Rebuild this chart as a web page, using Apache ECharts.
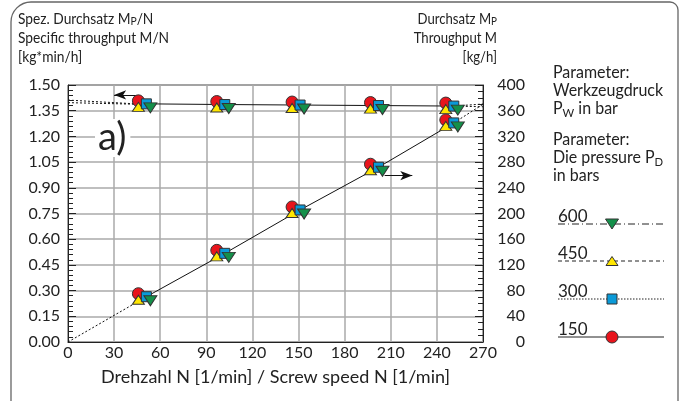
<!DOCTYPE html>
<html><head><meta charset="utf-8">
<script src="https://cdn.jsdelivr.net/npm/echarts@6/dist/echarts.min.js"></script>
<style>html,body{margin:0;padding:0;background:#fff}#c{width:681px;height:401px}</style>
</head><body><div id="c"></div>
<script>
// ---- data ----
const speeds = [51, 102, 151, 202, 251];
const throughput = [70.5, 138, 205.5, 272, 341];
const specific = [1.39, 1.386, 1.383, 1.380, 1.377];
const throughputExtLeft = [[0, 0], [51, 70.5]];
const throughputExtRight = [[251, 341], [270, 370]];
const specificExtLeftA = [[0, 1.412], [44, 1.390]];
const specificExtLeftB = [[0, 1.397], [44, 1.388]];
const specificExtRightA = [[251, 1.377], [270, 1.389]];
const specificExtRightB = [[251, 1.377], [270, 1.373]];
const xTickLabels = ['0','30','60','90','120','150','180','210','240','270'];
const pressures = ['600', '450', '300', '150'];
const leftTitle = ['Spez. Durchsatz M{s|P}/N', 'Specific throughput M/N', '[kg*min/h]'];
const rightTitle = ['Durchsatz M{s|P}', 'Throughput M', '[kg/h]'];
const xTitle = 'Drehzahl N [1/min] / Screw speed N [1/min]';

const FONT = 'Lato';
const TXT = '#222';
const marks = {
  '150': {symbol: 'circle', size: 12, color: '#e8141c', offset: [-8, -3], rotate: 0},
  '450': {symbol: 'triangle', size: [12, 9], color: '#ffe600', offset: [-8, 3], rotate: 0},
  '300': {symbol: 'rect', size: 10, color: '#0a9ad8', offset: [0, 0], rotate: 0},
  '600': {symbol: 'triangle', size: [13, 10], color: '#14904a', offset: [4, 4], rotate: 180}
};
const drawOrder = ['150', '450', '300', '600'];

const chart = echarts.init(document.getElementById('c'), null, {renderer: 'canvas'});

const pairs = (xs, ys) => xs.map((x, i) => [x, ys[i]]);
const series = [];
function line(data, yi, type, extra) {
  series.push(Object.assign({
    type: 'line', data, yAxisIndex: yi, symbol: 'none', silent: true, z: 3,
    lineStyle: {color: '#111', width: 1, type: type}
  }, extra || {}));
}
const arrowStyle = {
  silent: true, symbol: ['none', 'arrow'], symbolSize: [7, 12],
  label: {show: false}, lineStyle: {color: '#111', width: 1, type: 'solid'}
};
line(pairs(speeds, throughput), 1, 'solid', {
  markLine: Object.assign({data: [[{coord: [206, 259]}, {coord: [224, 259]}]]}, arrowStyle)
});
line(pairs(speeds, specific), 0, 'solid', {
  markLine: Object.assign({data: [[{coord: [47, 1.442]}, {coord: [30, 1.442]}]]}, arrowStyle)
});
line(throughputExtLeft, 1, [2, 2]);
line(throughputExtRight, 1, [2, 2]);
line(specificExtLeftA, 0, [2, 2]);
line(specificExtLeftB, 0, [2, 2]);
line(specificExtRightA, 0, [2, 2]);
line(specificExtRightB, 0, [2, 2]);

drawOrder.forEach((p, k) => {
  const m = marks[p];
  [[specific, 0], [throughput, 1]].forEach(([vals, yi]) => {
    series.push({
      type: 'scatter', name: p + ' bar', yAxisIndex: yi, data: pairs(speeds, vals),
      symbol: m.symbol, symbolSize: m.size, symbolOffset: m.offset, symbolRotate: m.rotate,
      itemStyle: {color: m.color, borderColor: '#333', borderWidth: 1, opacity: 1},
      z: 5 + k, silent: true
    });
  });
});

// graphic: titles, legend, annotation
const g = [];
g.push({type: 'rect', shape: {x: 11, y: 2, width: 667, height: 440, r: [20, 8, 0, 0]},
  style: {fill: 'none', stroke: '#666', lineWidth: 1.3}, z: 0, silent: true});
const rich = {s: {fontSize: 12, fontFamily: FONT, fill: TXT, padding: [4, 0, 0, 0]}};
const lineYs = [19, 38, 57];
leftTitle.forEach((t, i) => g.push({type: 'text', x: 18, y: lineYs[i], scaleX: 0.86,
  style: {text: t, font: '16px ' + FONT, fill: TXT, verticalAlign: 'middle', align: 'left', rich}}));
rightTitle.forEach((t, i) => g.push({type: 'text', x: 497, y: lineYs[i], scaleX: 0.82,
  style: {text: t, font: '16px ' + FONT, fill: TXT, verticalAlign: 'middle', align: 'right', rich}}));

const paramLines = [
  ['Parameter:', 73], ['Werkzeugdruck', 91], ['P{s|W} in bar', 109],
  ['Parameter:', 140], ['Die pressure P{s|D}', 158], ['in bars', 176]
];
const richSub = {s: {fontSize: 12, fontFamily: FONT, fill: TXT, padding: [9, 0, 0, 0]}};
paramLines.forEach(([t, y]) => g.push({type: 'text', x: 553, y, scaleX: 0.94,
  style: {text: t, font: '17px ' + FONT, fill: TXT, verticalAlign: 'middle', rich: richSub}}));

const legendY = {'600': 224, '450': 261, '300': 299, '150': 337};
const legendDash = {'600': [7, 3, 1, 3], '450': [4, 3], '300': [1.5, 1.5], '150': null};
pressures.forEach(p => {
  const y = legendY[p];
  g.push({type: 'line', shape: {x1: 558, y1: y, x2: 664, y2: y},
    style: {stroke: '#222', lineWidth: 1, lineDash: legendDash[p]}});
  g.push({type: 'text', x: 558, y: y + 1,
    style: {text: p, font: '17px ' + FONT, fill: TXT, verticalAlign: 'bottom'}});
});

g.push({type: 'text', x: 95, y: 119, z: 4,
  style: {text: 'a)', font: '38px ' + FONT, fill: '#222', backgroundColor: '#fff', padding: [0, 4, 0, 3], verticalAlign: 'top'}});

const legendMarks = pressures.map(p => {
  const m = marks[p];
  const sz = Array.isArray(m.size) ? m.size : [m.size, m.size];
  const y = legendY[p], st = {fill: m.color, stroke: '#333', lineWidth: 1};
  if (m.symbol === 'circle') return {type: 'circle', shape: {cx: 612, cy: y, r: sz[0] / 2}, style: st, z: 10};
  if (m.symbol === 'rect') return {type: 'rect', shape: {x: 612 - sz[0] / 2, y: y - sz[1] / 2, width: sz[0], height: sz[1]}, style: st, z: 10};
  const w = sz[0] / 2, h = sz[1] / 2;
  const pts = m.rotate ? [[612 - w, y - h], [612 + w, y - h], [612, y + h]] : [[612, y - h], [612 + w, y + h], [612 - w, y + h]];
  return {type: 'polygon', shape: {points: pts}, style: st, z: 10};
});

chart.setOption({
  animation: false,
  grid: {left: 68, right: 198, top: 85, bottom: 59, show: true, borderColor: '#222', borderWidth: 1},
  xAxis: {
    type: 'value', min: 0, max: 270, interval: 30,
    name: xTitle, nameLocation: 'middle', nameGap: 26,
    nameTextStyle: {fontFamily: FONT, fontSize: 18, color: TXT},
    axisLine: {show: true, lineStyle: {color: '#222'}},
    axisTick: {show: false},
    axisLabel: {fontFamily: FONT, fontSize: 16, color: TXT, margin: 3,
      formatter: v => xTickLabels[Math.round(v / 30)]},
    splitLine: {show: true, lineStyle: {color: '#aaa', width: 1.5}}
  },
  yAxis: [{
    type: 'value', min: 0, max: 1.5, interval: 0.15, position: 'left',
    axisLine: {show: true, lineStyle: {color: '#222'}},
    axisTick: {show: true, inside: true, length: 8, lineStyle: {color: '#222'}},
    minorTick: {show: true, splitNumber: 5, length: 5, lineStyle: {color: '#222'}},
    axisLabel: {fontFamily: FONT, fontSize: 16, color: TXT, margin: 8, formatter: v => v.toFixed(2)},
    splitLine: {show: true, lineStyle: {color: '#aaa', width: 1.5}}
  }, {
    type: 'value', min: 0, max: 400, interval: 40, position: 'right',
    axisLine: {show: true, lineStyle: {color: '#222'}},
    axisTick: {show: true, inside: true, length: 8, lineStyle: {color: '#222'}},
    minorTick: {show: true, splitNumber: 4, length: 5, lineStyle: {color: '#222'}},
    axisLabel: {fontFamily: FONT, fontSize: 16, color: TXT, margin: 42, align: 'right'},
    splitLine: {show: false}
  }],
  series,
  graphic: g.concat(legendMarks)
});
</script>
</body></html>
